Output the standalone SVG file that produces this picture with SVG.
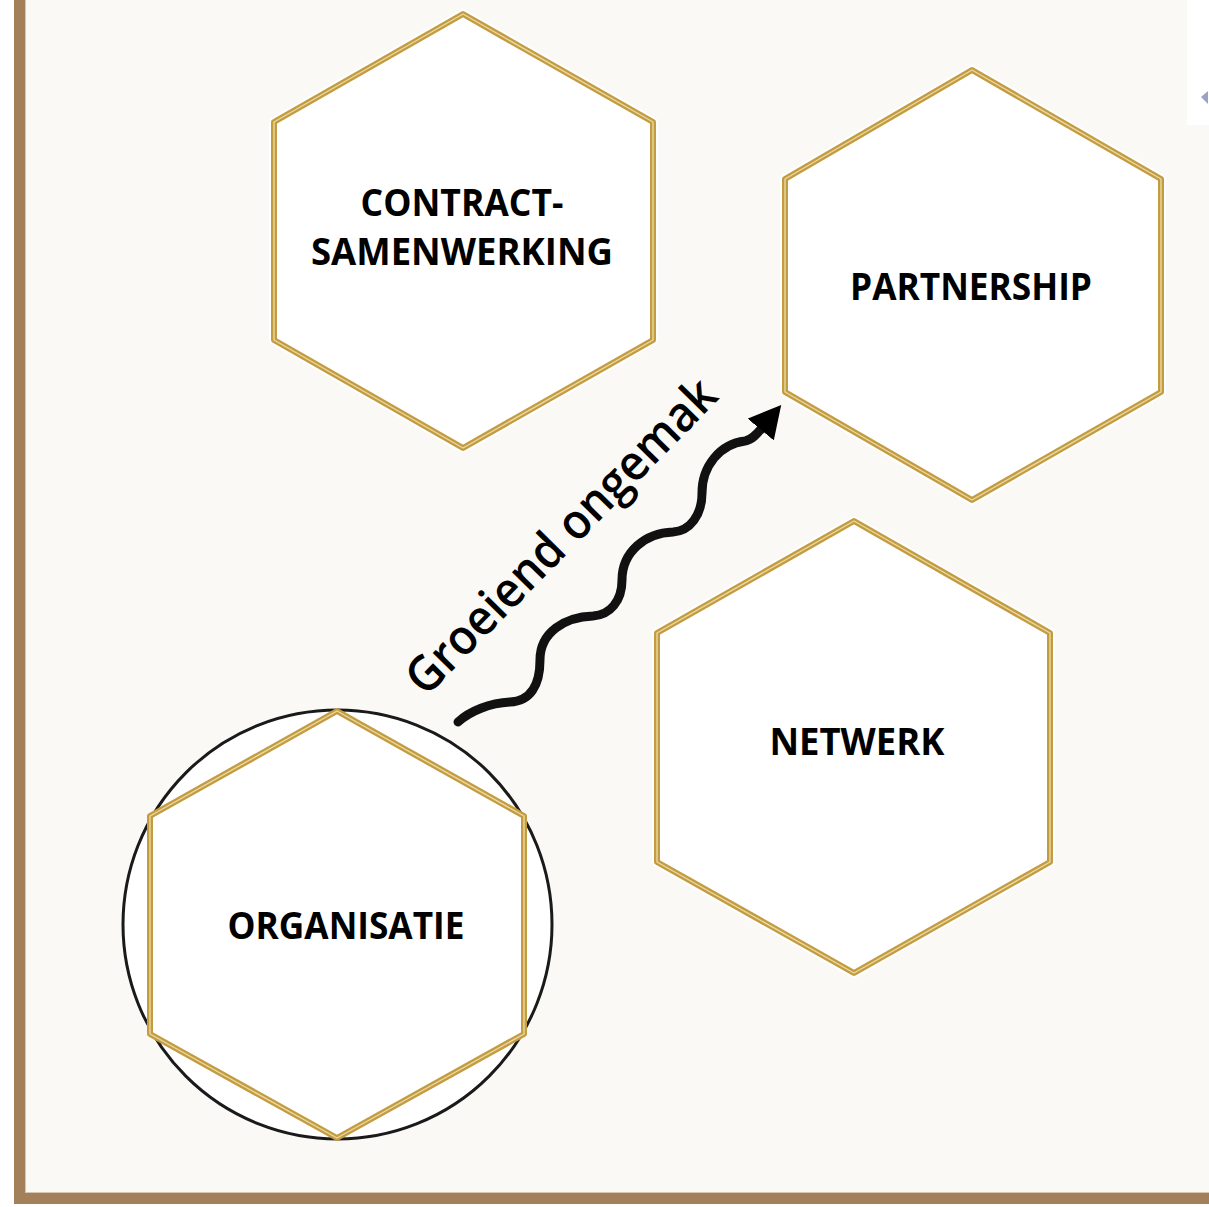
<svg xmlns="http://www.w3.org/2000/svg" width="1209" height="1207" viewBox="0 0 1209 1207">
<style>
.halo{fill:#ffffff;stroke:#ffffff;stroke-width:10;stroke-linejoin:round}
.hex{fill:#ffffff;stroke:#c39c40;stroke-width:6;stroke-linejoin:round}
.hexin{fill:none;stroke:#ead8a4;stroke-width:1.4;stroke-linejoin:round}
.lbl{font-family:"Open Sans","Liberation Sans",sans-serif;font-weight:700;font-size:38px;fill:#000000;text-anchor:middle}
.wave{font-family:"Open Sans","Liberation Sans",sans-serif;font-weight:600;font-size:49px;fill:#000000;text-anchor:middle}
</style>
<defs>
<marker id="ah" markerUnits="userSpaceOnUse" viewBox="0 0 32 34" refX="2" refY="17" markerWidth="32" markerHeight="34" orient="auto">
<path d="M0,0 L32,17 L0,34 z" fill="#000000"/>
</marker>
</defs>
<rect x="0" y="0" width="1209" height="1207" fill="#ffffff"/>
<rect x="25" y="0" width="1184" height="1193" fill="#faf9f6"/>
<rect x="1187" y="0" width="22" height="125" fill="#ffffff"/>
<path d="M1201,97 L1208,91 L1208,104 z" fill="#9aa3c4"/>
<rect x="14" y="0" width="11" height="1204" fill="#a3805a"/>
<rect x="14" y="1193" width="1195" height="11" fill="#a3805a"/>
<line x1="25.5" y1="0" x2="25.5" y2="1193" stroke="#d8c6ae" stroke-width="1"/>
<line x1="25" y1="1192.5" x2="1209" y2="1192.5" stroke="#d8c6ae" stroke-width="1"/>

<g id="node-contract">
<polygon class="halo" points="463,14 653,122 653,340 463,448 274,340 274,122"/>
<polygon class="hex" points="463,14 653,122 653,340 463,448 274,340 274,122"/>
<polygon class="hexin" points="463,14 653,122 653,340 463,448 274,340 274,122"/>
<text class="lbl" x="462" y="216" textLength="203" lengthAdjust="spacingAndGlyphs">CONTRACT-</text>
<text class="lbl" x="462" y="265" textLength="302" lengthAdjust="spacingAndGlyphs">SAMENWERKING</text>
</g>

<g id="node-partnership">
<polygon class="halo" points="972,70 1161,179 1161,392 972,500 785,392 785,179"/>
<polygon class="hex" points="972,70 1161,179 1161,392 972,500 785,392 785,179"/>
<polygon class="hexin" points="972,70 1161,179 1161,392 972,500 785,392 785,179"/>
<text class="lbl" x="971" y="300" textLength="242" lengthAdjust="spacingAndGlyphs">PARTNERSHIP</text>
</g>

<g id="node-netwerk">
<polygon class="halo" points="854,521 1050,633 1050,862 854,973 657,862 657,633"/>
<polygon class="hex" points="854,521 1050,633 1050,862 854,973 657,862 657,633"/>
<polygon class="hexin" points="854,521 1050,633 1050,862 854,973 657,862 657,633"/>
<text class="lbl" x="857" y="755" textLength="175" lengthAdjust="spacingAndGlyphs">NETWERK</text>
</g>

<g id="node-organisatie">
<circle cx="337.5" cy="924.5" r="214.5" fill="#ffffff" stroke="#1a1a1a" stroke-width="3"/>
<polygon class="hex" points="337,711 524,816 524,1034 337,1138 150,1034 150,816"/>
<polygon class="hexin" points="337,711 524,816 524,1034 337,1138 150,1034 150,816"/>
<text class="lbl" x="346" y="939" textLength="237" lengthAdjust="spacingAndGlyphs">ORGANISATIE</text>
</g>

<g id="connectors">
<path d="M458,722 C470,711 490,703 510,702 C530,701 540,686 540,660 C540,632 565,617 593,616 C610,615 622,601 622,580 C622,552 645,533 673,532 C690,531 702,515 702,493 C702,466 720,444 745,441 C752,440 757,434 762,428" fill="none" stroke="#111111" stroke-width="9" stroke-linecap="round" marker-end="url(#ah)"/>
<text class="wave" x="573" y="548" transform="rotate(-45.5 573 548)" textLength="420" lengthAdjust="spacingAndGlyphs">Groeiend ongemak</text>
</g>
</svg>
